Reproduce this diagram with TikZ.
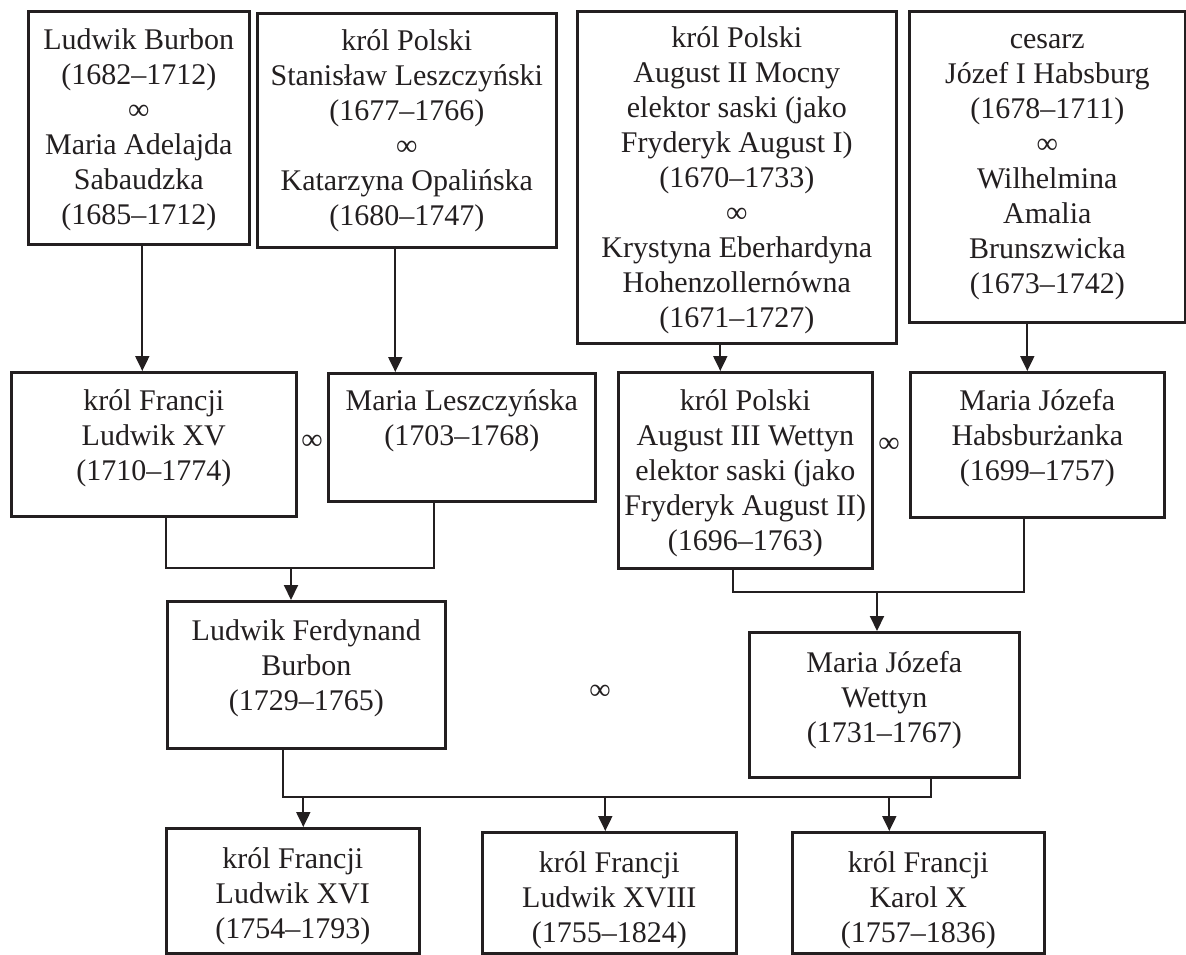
\documentclass[tikz,border=0pt]{standalone}
\usepackage{fontspec}
\setmainfont{Liberation Serif}
\usetikzlibrary{arrows.meta}
\definecolor{ink}{HTML}{231F20}

\tikzset{
	person/.style={draw=ink, line width=2.6pt, anchor=north west, inner sep=0pt},
	names/.style={align=center, anchor=base, text=ink, inner sep=0pt, font=\fontsize{30}{35}\selectfont},
	link/.style={draw=ink, line width=2pt},
	arr/.style={link, -{Triangle[length=15pt, width=14pt]}}
}

\begin{document}
\begin{tikzpicture}[x=1pt, y=-1pt]
	\useasboundingbox (0,0) rectangle (1186,954);

	% grandparents (text placed by the baseline of its last line)
	\node[person, minimum width=221pt, minimum height=233pt] (lb) at (27,10) {};
	\node[names] (lbt) at ([yshift=-214pt]lb.north) {Ludwik Burbon\\(1682–1712)\\∞\\Maria Adelajda\\Sabaudzka\\(1685–1712)};
	\node[person, minimum width=299pt, minimum height=234pt] (sl) at (256,12) {};
	\node[names] (slt) at ([yshift=-213pt]sl.north) {król Polski\\Stanisław Leszczyński\\(1677–1766)\\∞\\Katarzyna Opalińska\\(1680–1747)};
	\node[person, minimum width=319pt, minimum height=332pt] (a2) at (576,10) {};
	\node[names] (a2t) at ([yshift=-317pt]a2.north) {król Polski\\August II Mocny\\elektor saski (jako\\Fryderyk August I)\\(1670–1733)\\∞\\Krystyna Eberhardyna\\Hohenzollernówna\\(1671–1727)};
	\node[person, minimum width=276pt, minimum height=311pt] (j1) at (908,10) {};
	\node[names] (j1t) at ([yshift=-283pt]j1.north) {cesarz\\Józef I Habsburg\\(1678–1711)\\∞\\Wilhelmina\\Amalia\\Brunszwicka\\(1673–1742)};

	% parents
	\node[person, minimum width=285pt, minimum height=144pt] (l15) at (10,371) {};
	\node[names] (l15t) at ([yshift=-109pt]l15.north) {król Francji\\Ludwik XV\\(1710–1774)};
	\node[person, minimum width=267pt, minimum height=128pt] (ml) at (327,372) {};
	\node[names] (mlt) at ([yshift=-73pt]ml.north) {Maria Leszczyńska\\(1703–1768)};
	\node[person, minimum width=254pt, minimum height=196pt] (a3) at (617,371) {};
	\node[names] (a3t) at ([yshift=-179pt]a3.north) {król Polski\\August III Wettyn\\elektor saski (jako\\Fryderyk August II)\\(1696–1763)};
	\node[person, minimum width=254pt, minimum height=145pt] (mjh) at (909,371) {};
	\node[names] (mjht) at ([yshift=-109pt]mjh.north) {Maria Józefa\\Habsburżanka\\(1699–1757)};

	\node[names, anchor=center] (m1) at (312,442) {∞};
	\node[names, anchor=center] (m2) at (889,445) {∞};

	% couple
	\node[person, minimum width=278pt, minimum height=147pt] (lf) at (166,600) {};
	\node[names] (lft) at ([yshift=-110pt]lf.north) {Ludwik Ferdynand\\Burbon\\(1729–1765)};
	\node[person, minimum width=270pt, minimum height=145pt] (mjw) at (748,631) {};
	\node[names] (mjwt) at ([yshift=-111pt]mjw.north) {Maria Józefa\\Wettyn\\(1731–1767)};
	\node[names, anchor=center] (m3) at (600,692) {∞};

	% children
	\node[person, minimum width=253pt, minimum height=125pt] (l16) at (165,827) {};
	\node[names] (l16t) at ([yshift=-111pt]l16.north) {król Francji\\Ludwik XVI\\(1754–1793)};
	\node[person, minimum width=254pt, minimum height=121pt] (l18) at (481,831) {};
	\node[names] (l18t) at ([yshift=-111pt]l18.north) {król Francji\\Ludwik XVIII\\(1755–1824)};
	\node[person, minimum width=252pt, minimum height=121pt] (k10) at (791,831) {};
	\node[names] (k10t) at ([yshift=-111pt]k10.north) {król Francji\\Karol X\\(1757–1836)};

	% descent lines
	\draw[arr] ([xshift=3.5pt]lb.south) -- ([xshift=3.5pt]lb.south |- l15.north);
	\draw[arr] ([xshift=-11.5pt]sl.south) -- ([xshift=-11.5pt]sl.south |- ml.north);
	\draw[arr] ([xshift=-16.5pt]a2.south) -- ([xshift=-16.5pt]a2.south |- a3.north);
	\draw[arr] ([xshift=-20pt]j1.south) -- ([xshift=-20pt]j1.south |- mjh.north);

	\coordinate (jb) at (291,568);
	\draw[link] ([xshift=12.5pt]l15.south) |- (jb) -| ([xshift=-27.5pt]ml.south);
	\draw[arr] (jb) -- (jb |- lf.north);

	\coordinate (jw) at (877,592);
	\draw[link] ([xshift=-12pt]a3.south) |- (jw) -| ([xshift=-13.5pt]mjh.south);
	\draw[arr] (jw) -- (jw |- mjw.north);

	\coordinate (jk) at (604,797);
	\draw[link] ([xshift=-23pt]lf.south) |- (jk) -| ([xshift=47pt]mjw.south);
	\draw[arr] ([xshift=10.5pt]l16.north |- jk) -- ([xshift=10.5pt]l16.north);
	\draw[arr] ([xshift=-4pt]l18.north |- jk) -- ([xshift=-4pt]l18.north);
	\draw[arr] ([xshift=-29pt]k10.north |- jk) -- ([xshift=-29pt]k10.north);
\end{tikzpicture}
\end{document}
